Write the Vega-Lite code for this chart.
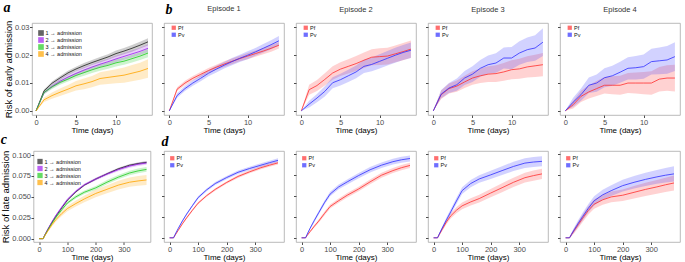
{
"$schema":"https://vega.github.io/schema/vega-lite/v6.json",
"padding":{"left":0,"top":0,"right":0,"bottom":0},
"config":{
 "view":{"stroke":"#a8a8a8","strokeWidth":0.8},
 "axis":{"grid":false,"domain":false,"tickColor":"#4d4d4d","tickSize":2.5,"labelFont":"Liberation Sans","labelFontSize":7.5,"labelColor":"#4d4d4d","labelPadding":0.5,"titleFont":"Liberation Sans","titleFontWeight":"normal","titleFontSize":9.5,"titleColor":"#000","labelFlush":false},
 "axisX":{"titleFontSize":8,"titlePadding":0.5},
 "axisY":{"titlePadding":1},
 "legend":{"orient":"none","title":null,"labelFont":"Liberation Sans","labelFontSize":5.5,"labelColor":"#111","symbolType":"square","symbolStrokeWidth":0,"symbolOpacity":0.7,"rowPadding":0,"padding":0,"labelOffset":1.5},
 "title":{"font":"Liberation Sans","fontSize":7.5,"fontWeight":"normal","color":"#333","offset":10,"frame":"group"}
},
"resolve":{"scale":{"color":"independent"},"legend":{"color":"independent"}},
"bounds":"flush",
"center":true,
"columns":5,
"spacing":{"row":36,"column":12},
"datasets":{
"a":[
{"s":"1 → admission","t":0,"y":0,"lo":0,"hi":0},
{"s":"1 → admission","t":1,"y":0.0072,"lo":0.0067,"hi":0.0077},
{"s":"1 → admission","t":2,"y":0.0099,"lo":0.0093,"hi":0.0105},
{"s":"1 → admission","t":3,"y":0.0118,"lo":0.0111,"hi":0.0125},
{"s":"1 → admission","t":4,"y":0.0136,"lo":0.0128,"hi":0.0144},
{"s":"1 → admission","t":5,"y":0.0150,"lo":0.0142,"hi":0.0158},
{"s":"1 → admission","t":6,"y":0.0162,"lo":0.0153,"hi":0.0171},
{"s":"1 → admission","t":7,"y":0.0173,"lo":0.0164,"hi":0.0182},
{"s":"1 → admission","t":8,"y":0.0183,"lo":0.0173,"hi":0.0193},
{"s":"1 → admission","t":9,"y":0.0193,"lo":0.0183,"hi":0.0203},
{"s":"1 → admission","t":10,"y":0.0205,"lo":0.0194,"hi":0.0216},
{"s":"1 → admission","t":11,"y":0.0214,"lo":0.0203,"hi":0.0225},
{"s":"1 → admission","t":12,"y":0.0224,"lo":0.0212,"hi":0.0236},
{"s":"1 → admission","t":13,"y":0.0235,"lo":0.0223,"hi":0.0247},
{"s":"1 → admission","t":14,"y":0.0247,"lo":0.0234,"hi":0.0260},
{"s":"2 → admission","t":0,"y":0,"lo":0,"hi":0},
{"s":"2 → admission","t":1,"y":0.0065,"lo":0.0060,"hi":0.0070},
{"s":"2 → admission","t":2,"y":0.0088,"lo":0.0081,"hi":0.0095},
{"s":"2 → admission","t":3,"y":0.0106,"lo":0.0098,"hi":0.0114},
{"s":"2 → admission","t":4,"y":0.0121,"lo":0.0112,"hi":0.0130},
{"s":"2 → admission","t":5,"y":0.0134,"lo":0.0125,"hi":0.0143},
{"s":"2 → admission","t":6,"y":0.0146,"lo":0.0136,"hi":0.0156},
{"s":"2 → admission","t":7,"y":0.0157,"lo":0.0147,"hi":0.0167},
{"s":"2 → admission","t":8,"y":0.0167,"lo":0.0156,"hi":0.0178},
{"s":"2 → admission","t":9,"y":0.0176,"lo":0.0165,"hi":0.0187},
{"s":"2 → admission","t":10,"y":0.0186,"lo":0.0174,"hi":0.0198},
{"s":"2 → admission","t":11,"y":0.0195,"lo":0.0183,"hi":0.0207},
{"s":"2 → admission","t":12,"y":0.0204,"lo":0.0191,"hi":0.0217},
{"s":"2 → admission","t":13,"y":0.0213,"lo":0.0200,"hi":0.0226},
{"s":"2 → admission","t":14,"y":0.0224,"lo":0.0210,"hi":0.0238},
{"s":"3 → admission","t":0,"y":0,"lo":0,"hi":0},
{"s":"3 → admission","t":1,"y":0.0066,"lo":0.0060,"hi":0.0072},
{"s":"3 → admission","t":2,"y":0.0086,"lo":0.0079,"hi":0.0093},
{"s":"3 → admission","t":3,"y":0.0102,"lo":0.0094,"hi":0.0110},
{"s":"3 → admission","t":4,"y":0.0114,"lo":0.0105,"hi":0.0123},
{"s":"3 → admission","t":5,"y":0.0127,"lo":0.0117,"hi":0.0137},
{"s":"3 → admission","t":6,"y":0.0137,"lo":0.0126,"hi":0.0148},
{"s":"3 → admission","t":7,"y":0.0147,"lo":0.0136,"hi":0.0158},
{"s":"3 → admission","t":8,"y":0.0156,"lo":0.0144,"hi":0.0168},
{"s":"3 → admission","t":9,"y":0.0163,"lo":0.0151,"hi":0.0175},
{"s":"3 → admission","t":10,"y":0.0172,"lo":0.0159,"hi":0.0185},
{"s":"3 → admission","t":11,"y":0.0178,"lo":0.0165,"hi":0.0191},
{"s":"3 → admission","t":12,"y":0.0187,"lo":0.0173,"hi":0.0201},
{"s":"3 → admission","t":13,"y":0.0196,"lo":0.0182,"hi":0.0210},
{"s":"3 → admission","t":14,"y":0.0207,"lo":0.0192,"hi":0.0222},
{"s":"4 → admission","t":0,"y":0,"lo":0,"hi":0},
{"s":"4 → admission","t":1,"y":0.0040,"lo":0.0032,"hi":0.0048},
{"s":"4 → admission","t":2,"y":0.0055,"lo":0.0044,"hi":0.0066},
{"s":"4 → admission","t":3,"y":0.0067,"lo":0.0054,"hi":0.0080},
{"s":"4 → admission","t":4,"y":0.0078,"lo":0.0063,"hi":0.0093},
{"s":"4 → admission","t":5,"y":0.0090,"lo":0.0073,"hi":0.0107},
{"s":"4 → admission","t":6,"y":0.0097,"lo":0.0078,"hi":0.0116},
{"s":"4 → admission","t":7,"y":0.0105,"lo":0.0085,"hi":0.0125},
{"s":"4 → admission","t":8,"y":0.0116,"lo":0.0094,"hi":0.0138},
{"s":"4 → admission","t":9,"y":0.0120,"lo":0.0096,"hi":0.0144},
{"s":"4 → admission","t":10,"y":0.0124,"lo":0.0099,"hi":0.0149},
{"s":"4 → admission","t":11,"y":0.0128,"lo":0.0101,"hi":0.0155},
{"s":"4 → admission","t":12,"y":0.0135,"lo":0.0106,"hi":0.0164},
{"s":"4 → admission","t":13,"y":0.0142,"lo":0.0112,"hi":0.0172},
{"s":"4 → admission","t":14,"y":0.0152,"lo":0.0119,"hi":0.0185}
],
"b1":[
{"s":"Pf","t":0,"y":0,"lo":0,"hi":0},
{"s":"Pf","t":1,"y":0.0078,"lo":0.0071,"hi":0.0085},
{"s":"Pf","t":2,"y":0.0100,"lo":0.0092,"hi":0.0108},
{"s":"Pf","t":3,"y":0.0117,"lo":0.0109,"hi":0.0125},
{"s":"Pf","t":4,"y":0.0131,"lo":0.0122,"hi":0.0140},
{"s":"Pf","t":5,"y":0.0145,"lo":0.0136,"hi":0.0154},
{"s":"Pf","t":6,"y":0.0157,"lo":0.0148,"hi":0.0166},
{"s":"Pf","t":7,"y":0.0168,"lo":0.0158,"hi":0.0178},
{"s":"Pf","t":8,"y":0.0178,"lo":0.0168,"hi":0.0188},
{"s":"Pf","t":9,"y":0.0188,"lo":0.0178,"hi":0.0198},
{"s":"Pf","t":10,"y":0.0197,"lo":0.0186,"hi":0.0208},
{"s":"Pf","t":11,"y":0.0206,"lo":0.0195,"hi":0.0217},
{"s":"Pf","t":12,"y":0.0215,"lo":0.0204,"hi":0.0226},
{"s":"Pf","t":13,"y":0.0225,"lo":0.0213,"hi":0.0237},
{"s":"Pf","t":14,"y":0.0236,"lo":0.0224,"hi":0.0248},
{"s":"Pv","t":0,"y":0,"lo":0,"hi":0},
{"s":"Pv","t":1,"y":0.0055,"lo":0.0047,"hi":0.0063},
{"s":"Pv","t":2,"y":0.0080,"lo":0.0071,"hi":0.0089},
{"s":"Pv","t":3,"y":0.0100,"lo":0.0090,"hi":0.0110},
{"s":"Pv","t":4,"y":0.0117,"lo":0.0106,"hi":0.0128},
{"s":"Pv","t":5,"y":0.0135,"lo":0.0124,"hi":0.0146},
{"s":"Pv","t":6,"y":0.0150,"lo":0.0138,"hi":0.0162},
{"s":"Pv","t":7,"y":0.0164,"lo":0.0152,"hi":0.0176},
{"s":"Pv","t":8,"y":0.0177,"lo":0.0164,"hi":0.0190},
{"s":"Pv","t":9,"y":0.0189,"lo":0.0176,"hi":0.0202},
{"s":"Pv","t":10,"y":0.0200,"lo":0.0186,"hi":0.0214},
{"s":"Pv","t":11,"y":0.0212,"lo":0.0198,"hi":0.0226},
{"s":"Pv","t":12,"y":0.0225,"lo":0.0210,"hi":0.0240},
{"s":"Pv","t":13,"y":0.0238,"lo":0.0222,"hi":0.0254},
{"s":"Pv","t":14,"y":0.0252,"lo":0.0235,"hi":0.0269}
],
"b2":[
{"s":"Pf","t":0,"y":0,"lo":0,"hi":0},
{"s":"Pf","t":1,"y":0.0076,"lo":0.0058,"hi":0.0094},
{"s":"Pf","t":2,"y":0.0091,"lo":0.0071,"hi":0.0111},
{"s":"Pf","t":3,"y":0.0113,"lo":0.0091,"hi":0.0135},
{"s":"Pf","t":4,"y":0.0136,"lo":0.0112,"hi":0.0160},
{"s":"Pf","t":5,"y":0.0150,"lo":0.0125,"hi":0.0175},
{"s":"Pf","t":6,"y":0.0160,"lo":0.0134,"hi":0.0186},
{"s":"Pf","t":7,"y":0.0170,"lo":0.0143,"hi":0.0197},
{"s":"Pf","t":8,"y":0.0182,"lo":0.0154,"hi":0.0210},
{"s":"Pf","t":9,"y":0.0193,"lo":0.0164,"hi":0.0222},
{"s":"Pf","t":10,"y":0.0195,"lo":0.0165,"hi":0.0225},
{"s":"Pf","t":11,"y":0.0197,"lo":0.0167,"hi":0.0227},
{"s":"Pf","t":12,"y":0.0205,"lo":0.0175,"hi":0.0235},
{"s":"Pf","t":13,"y":0.0213,"lo":0.0182,"hi":0.0244},
{"s":"Pf","t":14,"y":0.0222,"lo":0.0191,"hi":0.0253},
{"s":"Pv","t":0,"y":0,"lo":0,"hi":0},
{"s":"Pv","t":1,"y":0.0024,"lo":0.0012,"hi":0.0036},
{"s":"Pv","t":2,"y":0.0046,"lo":0.0031,"hi":0.0061},
{"s":"Pv","t":3,"y":0.0070,"lo":0.0052,"hi":0.0088},
{"s":"Pv","t":4,"y":0.0101,"lo":0.0081,"hi":0.0121},
{"s":"Pv","t":5,"y":0.0112,"lo":0.0091,"hi":0.0133},
{"s":"Pv","t":6,"y":0.0126,"lo":0.0104,"hi":0.0148},
{"s":"Pv","t":7,"y":0.0140,"lo":0.0117,"hi":0.0163},
{"s":"Pv","t":8,"y":0.0160,"lo":0.0136,"hi":0.0184},
{"s":"Pv","t":9,"y":0.0167,"lo":0.0142,"hi":0.0192},
{"s":"Pv","t":10,"y":0.0178,"lo":0.0152,"hi":0.0204},
{"s":"Pv","t":11,"y":0.0189,"lo":0.0163,"hi":0.0215},
{"s":"Pv","t":12,"y":0.0200,"lo":0.0173,"hi":0.0227},
{"s":"Pv","t":13,"y":0.0210,"lo":0.0183,"hi":0.0237},
{"s":"Pv","t":14,"y":0.0218,"lo":0.0190,"hi":0.0246}
],
"b3":[
{"s":"Pf","t":0,"y":0,"lo":0,"hi":0},
{"s":"Pf","t":1,"y":0.0058,"lo":0.0043,"hi":0.0073},
{"s":"Pf","t":2,"y":0.0080,"lo":0.0062,"hi":0.0098},
{"s":"Pf","t":3,"y":0.0089,"lo":0.0069,"hi":0.0109},
{"s":"Pf","t":4,"y":0.0104,"lo":0.0082,"hi":0.0126},
{"s":"Pf","t":5,"y":0.0118,"lo":0.0094,"hi":0.0142},
{"s":"Pf","t":6,"y":0.0126,"lo":0.0100,"hi":0.0152},
{"s":"Pf","t":7,"y":0.0132,"lo":0.0104,"hi":0.0160},
{"s":"Pf","t":8,"y":0.0134,"lo":0.0104,"hi":0.0164},
{"s":"Pf","t":9,"y":0.0140,"lo":0.0108,"hi":0.0172},
{"s":"Pf","t":10,"y":0.0148,"lo":0.0114,"hi":0.0182},
{"s":"Pf","t":11,"y":0.0151,"lo":0.0115,"hi":0.0187},
{"s":"Pf","t":12,"y":0.0158,"lo":0.0120,"hi":0.0196},
{"s":"Pf","t":13,"y":0.0162,"lo":0.0122,"hi":0.0202},
{"s":"Pf","t":14,"y":0.0166,"lo":0.0124,"hi":0.0208},
{"s":"Pv","t":0,"y":0,"lo":0,"hi":0},
{"s":"Pv","t":1,"y":0.0060,"lo":0.0045,"hi":0.0075},
{"s":"Pv","t":2,"y":0.0082,"lo":0.0064,"hi":0.0100},
{"s":"Pv","t":3,"y":0.0094,"lo":0.0072,"hi":0.0116},
{"s":"Pv","t":4,"y":0.0118,"lo":0.0093,"hi":0.0143},
{"s":"Pv","t":5,"y":0.0132,"lo":0.0104,"hi":0.0160},
{"s":"Pv","t":6,"y":0.0153,"lo":0.0123,"hi":0.0183},
{"s":"Pv","t":7,"y":0.0166,"lo":0.0133,"hi":0.0199},
{"s":"Pv","t":8,"y":0.0172,"lo":0.0137,"hi":0.0207},
{"s":"Pv","t":9,"y":0.0190,"lo":0.0152,"hi":0.0228},
{"s":"Pv","t":10,"y":0.0190,"lo":0.0150,"hi":0.0230},
{"s":"Pv","t":11,"y":0.0208,"lo":0.0166,"hi":0.0250},
{"s":"Pv","t":12,"y":0.0220,"lo":0.0176,"hi":0.0264},
{"s":"Pv","t":13,"y":0.0226,"lo":0.0180,"hi":0.0272},
{"s":"Pv","t":14,"y":0.0247,"lo":0.0197,"hi":0.0297}
],
"b4":[
{"s":"Pf","t":0,"y":0,"lo":0,"hi":0},
{"s":"Pf","t":1,"y":0.0022,"lo":0.0008,"hi":0.0036},
{"s":"Pf","t":2,"y":0.0052,"lo":0.0032,"hi":0.0072},
{"s":"Pf","t":3,"y":0.0068,"lo":0.0044,"hi":0.0092},
{"s":"Pf","t":4,"y":0.0080,"lo":0.0053,"hi":0.0107},
{"s":"Pf","t":5,"y":0.0092,"lo":0.0062,"hi":0.0122},
{"s":"Pf","t":6,"y":0.0092,"lo":0.0060,"hi":0.0124},
{"s":"Pf","t":7,"y":0.0092,"lo":0.0058,"hi":0.0126},
{"s":"Pf","t":8,"y":0.0100,"lo":0.0064,"hi":0.0136},
{"s":"Pf","t":9,"y":0.0100,"lo":0.0062,"hi":0.0138},
{"s":"Pf","t":10,"y":0.0100,"lo":0.0060,"hi":0.0140},
{"s":"Pf","t":11,"y":0.0100,"lo":0.0058,"hi":0.0142},
{"s":"Pf","t":12,"y":0.0114,"lo":0.0070,"hi":0.0158},
{"s":"Pf","t":13,"y":0.0118,"lo":0.0072,"hi":0.0164},
{"s":"Pf","t":14,"y":0.0118,"lo":0.0070,"hi":0.0166},
{"s":"Pv","t":0,"y":0,"lo":0,"hi":0},
{"s":"Pv","t":1,"y":0.0031,"lo":0.0015,"hi":0.0047},
{"s":"Pv","t":2,"y":0.0058,"lo":0.0036,"hi":0.0080},
{"s":"Pv","t":3,"y":0.0092,"lo":0.0064,"hi":0.0120},
{"s":"Pv","t":4,"y":0.0100,"lo":0.0069,"hi":0.0131},
{"s":"Pv","t":5,"y":0.0119,"lo":0.0085,"hi":0.0153},
{"s":"Pv","t":6,"y":0.0126,"lo":0.0090,"hi":0.0162},
{"s":"Pv","t":7,"y":0.0139,"lo":0.0101,"hi":0.0177},
{"s":"Pv","t":8,"y":0.0153,"lo":0.0113,"hi":0.0193},
{"s":"Pv","t":9,"y":0.0155,"lo":0.0113,"hi":0.0197},
{"s":"Pv","t":10,"y":0.0159,"lo":0.0115,"hi":0.0203},
{"s":"Pv","t":11,"y":0.0177,"lo":0.0131,"hi":0.0223},
{"s":"Pv","t":12,"y":0.0180,"lo":0.0132,"hi":0.0228},
{"s":"Pv","t":13,"y":0.0183,"lo":0.0133,"hi":0.0233},
{"s":"Pv","t":14,"y":0.0195,"lo":0.0143,"hi":0.0247}
],
"c":[
{"s":"1 → admission","t":0,"y":0,"lo":0,"hi":0},
{"s":"1 → admission","t":14,"y":0,"lo":0,"hi":0},
{"s":"1 → admission","t":20,"y":0.0042,"lo":0.0039,"hi":0.0045},
{"s":"1 → admission","t":30,"y":0.0105,"lo":0.0100,"hi":0.0110},
{"s":"1 → admission","t":45,"y":0.0193,"lo":0.0187,"hi":0.0199},
{"s":"1 → admission","t":60,"y":0.0272,"lo":0.0265,"hi":0.0279},
{"s":"1 → admission","t":80,"y":0.0368,"lo":0.0360,"hi":0.0376},
{"s":"1 → admission","t":100,"y":0.0460,"lo":0.0451,"hi":0.0469},
{"s":"1 → admission","t":130,"y":0.0560,"lo":0.0550,"hi":0.0570},
{"s":"1 → admission","t":160,"y":0.0640,"lo":0.0629,"hi":0.0651},
{"s":"1 → admission","t":200,"y":0.0712,"lo":0.0700,"hi":0.0724},
{"s":"1 → admission","t":240,"y":0.0775,"lo":0.0763,"hi":0.0787},
{"s":"1 → admission","t":280,"y":0.0835,"lo":0.0822,"hi":0.0848},
{"s":"1 → admission","t":320,"y":0.0878,"lo":0.0864,"hi":0.0892},
{"s":"1 → admission","t":350,"y":0.0898,"lo":0.0884,"hi":0.0912},
{"s":"1 → admission","t":380,"y":0.0912,"lo":0.0897,"hi":0.0927},
{"s":"2 → admission","t":0,"y":0,"lo":0,"hi":0},
{"s":"2 → admission","t":14,"y":0,"lo":0,"hi":0},
{"s":"2 → admission","t":20,"y":0.0044,"lo":0.0040,"hi":0.0048},
{"s":"2 → admission","t":30,"y":0.0109,"lo":0.0102,"hi":0.0116},
{"s":"2 → admission","t":45,"y":0.0200,"lo":0.0191,"hi":0.0209},
{"s":"2 → admission","t":60,"y":0.0282,"lo":0.0272,"hi":0.0292},
{"s":"2 → admission","t":80,"y":0.0378,"lo":0.0366,"hi":0.0390},
{"s":"2 → admission","t":100,"y":0.0470,"lo":0.0457,"hi":0.0483},
{"s":"2 → admission","t":130,"y":0.0568,"lo":0.0554,"hi":0.0582},
{"s":"2 → admission","t":160,"y":0.0645,"lo":0.0630,"hi":0.0660},
{"s":"2 → admission","t":200,"y":0.0712,"lo":0.0696,"hi":0.0728},
{"s":"2 → admission","t":240,"y":0.0772,"lo":0.0755,"hi":0.0789},
{"s":"2 → admission","t":280,"y":0.0825,"lo":0.0807,"hi":0.0843},
{"s":"2 → admission","t":320,"y":0.0868,"lo":0.0849,"hi":0.0887},
{"s":"2 → admission","t":350,"y":0.0890,"lo":0.0870,"hi":0.0910},
{"s":"2 → admission","t":380,"y":0.0905,"lo":0.0884,"hi":0.0926},
{"s":"3 → admission","t":0,"y":0,"lo":0,"hi":0},
{"s":"3 → admission","t":14,"y":0,"lo":0,"hi":0},
{"s":"3 → admission","t":20,"y":0.0039,"lo":0.0034,"hi":0.0044},
{"s":"3 → admission","t":30,"y":0.0098,"lo":0.0089,"hi":0.0107},
{"s":"3 → admission","t":45,"y":0.0182,"lo":0.0170,"hi":0.0194},
{"s":"3 → admission","t":60,"y":0.0258,"lo":0.0243,"hi":0.0273},
{"s":"3 → admission","t":80,"y":0.0345,"lo":0.0328,"hi":0.0362},
{"s":"3 → admission","t":100,"y":0.0427,"lo":0.0408,"hi":0.0446},
{"s":"3 → admission","t":130,"y":0.0500,"lo":0.0479,"hi":0.0521},
{"s":"3 → admission","t":160,"y":0.0555,"lo":0.0533,"hi":0.0577},
{"s":"3 → admission","t":200,"y":0.0607,"lo":0.0583,"hi":0.0631},
{"s":"3 → admission","t":240,"y":0.0675,"lo":0.0650,"hi":0.0700},
{"s":"3 → admission","t":280,"y":0.0735,"lo":0.0709,"hi":0.0761},
{"s":"3 → admission","t":320,"y":0.0785,"lo":0.0758,"hi":0.0812},
{"s":"3 → admission","t":350,"y":0.0810,"lo":0.0782,"hi":0.0838},
{"s":"3 → admission","t":380,"y":0.0828,"lo":0.0799,"hi":0.0857},
{"s":"4 → admission","t":0,"y":0,"lo":0,"hi":0},
{"s":"4 → admission","t":14,"y":0,"lo":0,"hi":0},
{"s":"4 → admission","t":20,"y":0.0035,"lo":0.0027,"hi":0.0043},
{"s":"4 → admission","t":30,"y":0.0088,"lo":0.0074,"hi":0.0102},
{"s":"4 → admission","t":45,"y":0.0165,"lo":0.0145,"hi":0.0185},
{"s":"4 → admission","t":60,"y":0.0230,"lo":0.0205,"hi":0.0255},
{"s":"4 → admission","t":80,"y":0.0300,"lo":0.0271,"hi":0.0329},
{"s":"4 → admission","t":100,"y":0.0360,"lo":0.0327,"hi":0.0393},
{"s":"4 → admission","t":130,"y":0.0420,"lo":0.0383,"hi":0.0457},
{"s":"4 → admission","t":160,"y":0.0475,"lo":0.0435,"hi":0.0515},
{"s":"4 → admission","t":200,"y":0.0540,"lo":0.0496,"hi":0.0584},
{"s":"4 → admission","t":240,"y":0.0590,"lo":0.0542,"hi":0.0638},
{"s":"4 → admission","t":280,"y":0.0640,"lo":0.0588,"hi":0.0692},
{"s":"4 → admission","t":320,"y":0.0675,"lo":0.0620,"hi":0.0730},
{"s":"4 → admission","t":350,"y":0.0690,"lo":0.0632,"hi":0.0748},
{"s":"4 → admission","t":380,"y":0.0702,"lo":0.0642,"hi":0.0762}
],
"d1":[
{"s":"Pf","t":0,"y":0,"lo":0,"hi":0},
{"s":"Pf","t":14,"y":0,"lo":0,"hi":0},
{"s":"Pf","t":20,"y":0.0034,"lo":0.0030,"hi":0.0038},
{"s":"Pf","t":30,"y":0.0088,"lo":0.0081,"hi":0.0095},
{"s":"Pf","t":45,"y":0.0168,"lo":0.0159,"hi":0.0177},
{"s":"Pf","t":60,"y":0.0240,"lo":0.0229,"hi":0.0251},
{"s":"Pf","t":80,"y":0.0330,"lo":0.0318,"hi":0.0342},
{"s":"Pf","t":100,"y":0.0415,"lo":0.0402,"hi":0.0428},
{"s":"Pf","t":130,"y":0.0505,"lo":0.0491,"hi":0.0519},
{"s":"Pf","t":160,"y":0.0580,"lo":0.0565,"hi":0.0595},
{"s":"Pf","t":200,"y":0.0663,"lo":0.0647,"hi":0.0679},
{"s":"Pf","t":240,"y":0.0735,"lo":0.0718,"hi":0.0752},
{"s":"Pf","t":280,"y":0.0790,"lo":0.0772,"hi":0.0808},
{"s":"Pf","t":320,"y":0.0840,"lo":0.0821,"hi":0.0859},
{"s":"Pf","t":350,"y":0.0870,"lo":0.0851,"hi":0.0889},
{"s":"Pf","t":380,"y":0.0898,"lo":0.0878,"hi":0.0918},
{"s":"Pv","t":0,"y":0,"lo":0,"hi":0},
{"s":"Pv","t":14,"y":0,"lo":0,"hi":0},
{"s":"Pv","t":20,"y":0.0044,"lo":0.0039,"hi":0.0049},
{"s":"Pv","t":30,"y":0.0110,"lo":0.0102,"hi":0.0118},
{"s":"Pv","t":45,"y":0.0202,"lo":0.0191,"hi":0.0213},
{"s":"Pv","t":60,"y":0.0285,"lo":0.0272,"hi":0.0298},
{"s":"Pv","t":80,"y":0.0385,"lo":0.0371,"hi":0.0399},
{"s":"Pv","t":100,"y":0.0482,"lo":0.0466,"hi":0.0498},
{"s":"Pv","t":130,"y":0.0575,"lo":0.0558,"hi":0.0592},
{"s":"Pv","t":160,"y":0.0650,"lo":0.0632,"hi":0.0668},
{"s":"Pv","t":200,"y":0.0722,"lo":0.0703,"hi":0.0741},
{"s":"Pv","t":240,"y":0.0785,"lo":0.0765,"hi":0.0805},
{"s":"Pv","t":280,"y":0.0830,"lo":0.0808,"hi":0.0852},
{"s":"Pv","t":320,"y":0.0870,"lo":0.0847,"hi":0.0893},
{"s":"Pv","t":350,"y":0.0900,"lo":0.0877,"hi":0.0923},
{"s":"Pv","t":380,"y":0.0928,"lo":0.0904,"hi":0.0952}
],
"d2":[
{"s":"Pf","t":0,"y":0,"lo":0,"hi":0},
{"s":"Pf","t":14,"y":0,"lo":0,"hi":0},
{"s":"Pf","t":20,"y":0.0030,"lo":0.0022,"hi":0.0038},
{"s":"Pf","t":30,"y":0.0075,"lo":0.0063,"hi":0.0087},
{"s":"Pf","t":45,"y":0.0140,"lo":0.0124,"hi":0.0156},
{"s":"Pf","t":60,"y":0.0200,"lo":0.0181,"hi":0.0219},
{"s":"Pf","t":80,"y":0.0290,"lo":0.0268,"hi":0.0312},
{"s":"Pf","t":100,"y":0.0375,"lo":0.0351,"hi":0.0399},
{"s":"Pf","t":130,"y":0.0445,"lo":0.0419,"hi":0.0471},
{"s":"Pf","t":160,"y":0.0510,"lo":0.0483,"hi":0.0537},
{"s":"Pf","t":200,"y":0.0585,"lo":0.0557,"hi":0.0613},
{"s":"Pf","t":240,"y":0.0670,"lo":0.0641,"hi":0.0699},
{"s":"Pf","t":280,"y":0.0750,"lo":0.0720,"hi":0.0780},
{"s":"Pf","t":320,"y":0.0805,"lo":0.0775,"hi":0.0835},
{"s":"Pf","t":350,"y":0.0840,"lo":0.0809,"hi":0.0871},
{"s":"Pf","t":380,"y":0.0867,"lo":0.0836,"hi":0.0898},
{"s":"Pv","t":0,"y":0,"lo":0,"hi":0},
{"s":"Pv","t":14,"y":0,"lo":0,"hi":0},
{"s":"Pv","t":20,"y":0.0045,"lo":0.0035,"hi":0.0055},
{"s":"Pv","t":30,"y":0.0115,"lo":0.0100,"hi":0.0130},
{"s":"Pv","t":45,"y":0.0210,"lo":0.0191,"hi":0.0229},
{"s":"Pv","t":60,"y":0.0300,"lo":0.0278,"hi":0.0322},
{"s":"Pv","t":80,"y":0.0420,"lo":0.0395,"hi":0.0445},
{"s":"Pv","t":100,"y":0.0524,"lo":0.0497,"hi":0.0551},
{"s":"Pv","t":130,"y":0.0610,"lo":0.0581,"hi":0.0639},
{"s":"Pv","t":160,"y":0.0670,"lo":0.0640,"hi":0.0700},
{"s":"Pv","t":200,"y":0.0746,"lo":0.0715,"hi":0.0777},
{"s":"Pv","t":240,"y":0.0815,"lo":0.0783,"hi":0.0847},
{"s":"Pv","t":280,"y":0.0870,"lo":0.0837,"hi":0.0903},
{"s":"Pv","t":320,"y":0.0912,"lo":0.0878,"hi":0.0946},
{"s":"Pv","t":350,"y":0.0935,"lo":0.0900,"hi":0.0970},
{"s":"Pv","t":380,"y":0.0950,"lo":0.0915,"hi":0.0985}
],
"d3":[
{"s":"Pf","t":0,"y":0,"lo":0,"hi":0},
{"s":"Pf","t":14,"y":0,"lo":0,"hi":0},
{"s":"Pf","t":20,"y":0.0040,"lo":0.0025,"hi":0.0055},
{"s":"Pf","t":30,"y":0.0100,"lo":0.0078,"hi":0.0122},
{"s":"Pf","t":45,"y":0.0190,"lo":0.0162,"hi":0.0218},
{"s":"Pf","t":60,"y":0.0262,"lo":0.0230,"hi":0.0294},
{"s":"Pf","t":80,"y":0.0330,"lo":0.0294,"hi":0.0366},
{"s":"Pf","t":100,"y":0.0383,"lo":0.0343,"hi":0.0423},
{"s":"Pf","t":130,"y":0.0430,"lo":0.0387,"hi":0.0473},
{"s":"Pf","t":160,"y":0.0470,"lo":0.0424,"hi":0.0516},
{"s":"Pf","t":200,"y":0.0536,"lo":0.0486,"hi":0.0586},
{"s":"Pf","t":240,"y":0.0600,"lo":0.0547,"hi":0.0653},
{"s":"Pf","t":280,"y":0.0665,"lo":0.0609,"hi":0.0721},
{"s":"Pf","t":320,"y":0.0720,"lo":0.0662,"hi":0.0778},
{"s":"Pf","t":350,"y":0.0745,"lo":0.0685,"hi":0.0805},
{"s":"Pf","t":380,"y":0.0766,"lo":0.0706,"hi":0.0826},
{"s":"Pv","t":0,"y":0,"lo":0,"hi":0},
{"s":"Pv","t":14,"y":0,"lo":0,"hi":0},
{"s":"Pv","t":20,"y":0.0045,"lo":0.0030,"hi":0.0060},
{"s":"Pv","t":30,"y":0.0115,"lo":0.0093,"hi":0.0137},
{"s":"Pv","t":45,"y":0.0215,"lo":0.0187,"hi":0.0243},
{"s":"Pv","t":60,"y":0.0310,"lo":0.0278,"hi":0.0342},
{"s":"Pv","t":80,"y":0.0440,"lo":0.0404,"hi":0.0476},
{"s":"Pv","t":100,"y":0.0565,"lo":0.0525,"hi":0.0605},
{"s":"Pv","t":130,"y":0.0650,"lo":0.0607,"hi":0.0693},
{"s":"Pv","t":160,"y":0.0705,"lo":0.0659,"hi":0.0751},
{"s":"Pv","t":200,"y":0.0754,"lo":0.0704,"hi":0.0804},
{"s":"Pv","t":240,"y":0.0805,"lo":0.0752,"hi":0.0858},
{"s":"Pv","t":280,"y":0.0855,"lo":0.0799,"hi":0.0911},
{"s":"Pv","t":320,"y":0.0895,"lo":0.0837,"hi":0.0953},
{"s":"Pv","t":350,"y":0.0908,"lo":0.0848,"hi":0.0968},
{"s":"Pv","t":380,"y":0.0916,"lo":0.0856,"hi":0.0976}
],
"d4":[
{"s":"Pf","t":0,"y":0,"lo":0,"hi":0},
{"s":"Pf","t":14,"y":0,"lo":0,"hi":0},
{"s":"Pf","t":20,"y":0.0035,"lo":0.0015,"hi":0.0055},
{"s":"Pf","t":30,"y":0.0085,"lo":0.0055,"hi":0.0115},
{"s":"Pf","t":45,"y":0.0160,"lo":0.0120,"hi":0.0200},
{"s":"Pf","t":60,"y":0.0235,"lo":0.0190,"hi":0.0280},
{"s":"Pf","t":80,"y":0.0330,"lo":0.0280,"hi":0.0380},
{"s":"Pf","t":100,"y":0.0403,"lo":0.0348,"hi":0.0458},
{"s":"Pf","t":130,"y":0.0455,"lo":0.0395,"hi":0.0515},
{"s":"Pf","t":160,"y":0.0490,"lo":0.0425,"hi":0.0555},
{"s":"Pf","t":200,"y":0.0510,"lo":0.0440,"hi":0.0580},
{"s":"Pf","t":240,"y":0.0545,"lo":0.0470,"hi":0.0620},
{"s":"Pf","t":280,"y":0.0580,"lo":0.0500,"hi":0.0660},
{"s":"Pf","t":320,"y":0.0610,"lo":0.0527,"hi":0.0693},
{"s":"Pf","t":350,"y":0.0635,"lo":0.0549,"hi":0.0721},
{"s":"Pf","t":380,"y":0.0657,"lo":0.0567,"hi":0.0747},
{"s":"Pv","t":0,"y":0,"lo":0,"hi":0},
{"s":"Pv","t":14,"y":0,"lo":0,"hi":0},
{"s":"Pv","t":20,"y":0.0038,"lo":0.0018,"hi":0.0058},
{"s":"Pv","t":30,"y":0.0095,"lo":0.0065,"hi":0.0125},
{"s":"Pv","t":45,"y":0.0178,"lo":0.0138,"hi":0.0218},
{"s":"Pv","t":60,"y":0.0255,"lo":0.0210,"hi":0.0300},
{"s":"Pv","t":80,"y":0.0355,"lo":0.0305,"hi":0.0405},
{"s":"Pv","t":100,"y":0.0443,"lo":0.0388,"hi":0.0498},
{"s":"Pv","t":130,"y":0.0515,"lo":0.0455,"hi":0.0575},
{"s":"Pv","t":160,"y":0.0565,"lo":0.0500,"hi":0.0630},
{"s":"Pv","t":200,"y":0.0625,"lo":0.0555,"hi":0.0695},
{"s":"Pv","t":240,"y":0.0665,"lo":0.0590,"hi":0.0740},
{"s":"Pv","t":280,"y":0.0700,"lo":0.0620,"hi":0.0780},
{"s":"Pv","t":320,"y":0.0730,"lo":0.0647,"hi":0.0813},
{"s":"Pv","t":350,"y":0.0750,"lo":0.0664,"hi":0.0836},
{"s":"Pv","t":380,"y":0.0766,"lo":0.0676,"hi":0.0856}
]
},
"concat":[
  {
   "width":120,"height":92,
   "title":{"text":"a","font":"Liberation Serif","fontStyle":"italic","fontWeight":"bold","fontSize":14,"color":"#000","anchor":"start","frame":"bounds","offset":5.5},
   "data":{"name":"a"},
   "encoding":{"x":{"field":"t","type":"quantitative","scale":{"domain":[-0.5,14.5],"nice":false},"axis":{"values":[0,5,10],"title":"Time (days)"}}},
   "layer":[
    {"mark":{"type":"area","opacity":0.22},"encoding":{
     "y":{"field":"lo","type":"quantitative","scale":{"domain":[-0.00143,0.03143],"nice":false,"zero":false},"axis":{"values":[0,0.01,0.02,0.03],"format":".2f","title":"Risk of early admission"}},
     "y2":{"field":"hi"},
     "color":{"field":"s","type":"nominal","scale":{"domain":["1 → admission","2 → admission","3 → admission","4 → admission"],"range":["#222222","#a020f0","#22cc22","#ffa500"]},"legend":{"legendX":6,"legendY":7,"symbolSize":32}}}},
    {"mark":{"type":"line","strokeWidth":0.9,"opacity":0.9},"encoding":{
     "y":{"field":"y","type":"quantitative","axis":{"values":[0,0.01,0.02,0.03],"format":".2f","title":"Risk of early admission"}},
     "color":{"field":"s","type":"nominal"}}}
   ]
  },
  {"width":120,"height":92,"title":{"text":"Episode 1","dy":20},"data":{"name":"b1"},
   "encoding":{"x":{"field":"t","type":"quantitative","scale":{"domain":[-0.68,14.65],"nice":false},"axis":{"values":[0,5,10],"title":"Time (days)"}}},
   "layer":[
    {"mark":{"type":"area","opacity":0.22},"encoding":{"y":{"field":"lo","type":"quantitative","scale":{"domain":[-0.0015,0.0316],"nice":false,"zero":false},"axis":{"values":[0,0.01,0.02,0.03],"labels":false,"title":"b","titleAngle":0,"titleX":1,"titleY":-10,"titleAlign":"left","titleBaseline":"alphabetic","titleFont":"Liberation Serif","titleFontStyle":"italic","titleFontWeight":"bold","titleFontSize":14}},"y2":{"field":"hi"},"color":{"field":"s","type":"nominal","scale":{"domain":["Pf","Pv"],"range":["#ff3030","#3030ff"]},"legend":{"legendX":7,"legendY":2,"symbolSize":18}}}},
    {"mark":{"type":"line","strokeWidth":0.9,"opacity":0.9},"encoding":{"y":{"field":"y","type":"quantitative","axis":{"values":[0,0.01,0.02,0.03],"labels":false,"title":"b","titleAngle":0,"titleX":1,"titleY":-10,"titleAlign":"left","titleBaseline":"alphabetic","titleFont":"Liberation Serif","titleFontStyle":"italic","titleFontWeight":"bold","titleFontSize":14}},"color":{"field":"s","type":"nominal"}}}
   ]},
  {"width":120,"height":92,"title":"Episode 2","data":{"name":"b2"},
   "encoding":{"x":{"field":"t","type":"quantitative","scale":{"domain":[-0.68,14.65],"nice":false},"axis":{"values":[0,5,10],"title":"Time (days)"}}},
   "layer":[
    {"mark":{"type":"area","opacity":0.22},"encoding":{"y":{"field":"lo","type":"quantitative","scale":{"domain":[-0.0015,0.0316],"nice":false,"zero":false},"axis":{"values":[0,0.01,0.02,0.03],"labels":false,"title":null}},"y2":{"field":"hi"},"color":{"field":"s","type":"nominal","scale":{"domain":["Pf","Pv"],"range":["#ff3030","#3030ff"]},"legend":{"legendX":7,"legendY":2,"symbolSize":18}}}},
    {"mark":{"type":"line","strokeWidth":0.9,"opacity":0.9},"encoding":{"y":{"field":"y","type":"quantitative","axis":{"values":[0,0.01,0.02,0.03],"labels":false,"title":null}},"color":{"field":"s","type":"nominal"}}}
   ]},
  {"width":120,"height":92,"title":"Episode 3","data":{"name":"b3"},
   "encoding":{"x":{"field":"t","type":"quantitative","scale":{"domain":[-0.68,14.65],"nice":false},"axis":{"values":[0,5,10],"title":"Time (days)"}}},
   "layer":[
    {"mark":{"type":"area","opacity":0.22},"encoding":{"y":{"field":"lo","type":"quantitative","scale":{"domain":[-0.0015,0.0316],"nice":false,"zero":false},"axis":{"values":[0,0.01,0.02,0.03],"labels":false,"title":null}},"y2":{"field":"hi"},"color":{"field":"s","type":"nominal","scale":{"domain":["Pf","Pv"],"range":["#ff3030","#3030ff"]},"legend":{"legendX":7,"legendY":2,"symbolSize":18}}}},
    {"mark":{"type":"line","strokeWidth":0.9,"opacity":0.9},"encoding":{"y":{"field":"y","type":"quantitative","axis":{"values":[0,0.01,0.02,0.03],"labels":false,"title":null}},"color":{"field":"s","type":"nominal"}}}
   ]},
  {"width":120,"height":92,"title":"Episode 4","data":{"name":"b4"},
   "encoding":{"x":{"field":"t","type":"quantitative","scale":{"domain":[-0.68,14.65],"nice":false},"axis":{"values":[0,5,10],"title":"Time (days)"}}},
   "layer":[
    {"mark":{"type":"area","opacity":0.22},"encoding":{"y":{"field":"lo","type":"quantitative","scale":{"domain":[-0.0015,0.0316],"nice":false,"zero":false},"axis":{"values":[0,0.01,0.02,0.03],"labels":false,"title":null}},"y2":{"field":"hi"},"color":{"field":"s","type":"nominal","scale":{"domain":["Pf","Pv"],"range":["#ff3030","#3030ff"]},"legend":{"legendX":7,"legendY":2,"symbolSize":18}}}},
    {"mark":{"type":"line","strokeWidth":0.9,"opacity":0.9},"encoding":{"y":{"field":"y","type":"quantitative","axis":{"values":[0,0.01,0.02,0.03],"labels":false,"title":null}},"color":{"field":"s","type":"nominal"}}}
   ]},
  {
   "width":117,"height":91,
   "title":{"text":"c","font":"Liberation Serif","fontStyle":"italic","fontWeight":"bold","fontSize":14,"color":"#000","anchor":"start","frame":"bounds","offset":3.5},
   "data":{"name":"c"},
   "encoding":{"x":{"field":"t","type":"quantitative","scale":{"domain":[-20,394],"nice":false},"axis":{"values":[0,100,200,300],"title":"Time (days)"}}},
   "layer":[
    {"mark":{"type":"area","opacity":0.22},"encoding":{
     "y":{"field":"lo","type":"quantitative","scale":{"domain":[-0.004,0.1048],"nice":false,"zero":false},"axis":{"values":[0,0.025,0.05,0.075,0.1],"format":".3f","title":"Risk of late admission"}},
     "y2":{"field":"hi"},
     "color":{"field":"s","type":"nominal","scale":{"domain":["1 → admission","2 → admission","3 → admission","4 → admission"],"range":["#222222","#a020f0","#22cc22","#ffa500"]},"legend":{"legendX":3.5,"legendY":7.5,"symbolSize":28}}}},
    {"mark":{"type":"line","strokeWidth":0.9,"opacity":0.9},"encoding":{
     "y":{"field":"y","type":"quantitative","axis":{"values":[0,0.025,0.05,0.075,0.1],"format":".3f","title":"Risk of late admission"}},
     "color":{"field":"s","type":"nominal"}}}
   ]
  },
  {"width":120,"height":91,"data":{"name":"d1"},
   "encoding":{"x":{"field":"t","type":"quantitative","scale":{"domain":[-19.5,401],"nice":false},"axis":{"values":[0,100,200,300],"title":"Time (days)"}}},
   "layer":[
    {"mark":{"type":"area","opacity":0.22},"encoding":{"y":{"field":"lo","type":"quantitative","scale":{"domain":[-0.005,0.104],"nice":false,"zero":false},"axis":{"values":[0,0.025,0.05,0.075,0.1],"labels":false,"title":"d","titleAngle":0,"titleX":-3,"titleY":-6,"titleAlign":"left","titleBaseline":"alphabetic","titleFont":"Liberation Serif","titleFontStyle":"italic","titleFontWeight":"bold","titleFontSize":14}},"y2":{"field":"hi"},"color":{"field":"s","type":"nominal","scale":{"domain":["Pf","Pv"],"range":["#ff3030","#3030ff"]},"legend":{"legendX":5.5,"legendY":4.5,"symbolSize":18}}}},
    {"mark":{"type":"line","strokeWidth":0.9,"opacity":0.9},"encoding":{"y":{"field":"y","type":"quantitative","axis":{"values":[0,0.025,0.05,0.075,0.1],"labels":false,"title":"d","titleAngle":0,"titleX":-3,"titleY":-6,"titleAlign":"left","titleBaseline":"alphabetic","titleFont":"Liberation Serif","titleFontStyle":"italic","titleFontWeight":"bold","titleFontSize":14}},"color":{"field":"s","type":"nominal"}}}
   ]},
  {"width":120,"height":91,"data":{"name":"d2"},
   "encoding":{"x":{"field":"t","type":"quantitative","scale":{"domain":[-19.5,401],"nice":false},"axis":{"values":[0,100,200,300],"title":"Time (days)"}}},
   "layer":[
    {"mark":{"type":"area","opacity":0.22},"encoding":{"y":{"field":"lo","type":"quantitative","scale":{"domain":[-0.005,0.104],"nice":false,"zero":false},"axis":{"values":[0,0.025,0.05,0.075,0.1],"labels":false,"title":null}},"y2":{"field":"hi"},"color":{"field":"s","type":"nominal","scale":{"domain":["Pf","Pv"],"range":["#ff3030","#3030ff"]},"legend":{"legendX":5.5,"legendY":4.5,"symbolSize":18}}}},
    {"mark":{"type":"line","strokeWidth":0.9,"opacity":0.9},"encoding":{"y":{"field":"y","type":"quantitative","axis":{"values":[0,0.025,0.05,0.075,0.1],"labels":false,"title":null}},"color":{"field":"s","type":"nominal"}}}
   ]},
  {"width":120,"height":91,"data":{"name":"d3"},
   "encoding":{"x":{"field":"t","type":"quantitative","scale":{"domain":[-19.5,401],"nice":false},"axis":{"values":[0,100,200,300],"title":"Time (days)"}}},
   "layer":[
    {"mark":{"type":"area","opacity":0.22},"encoding":{"y":{"field":"lo","type":"quantitative","scale":{"domain":[-0.005,0.104],"nice":false,"zero":false},"axis":{"values":[0,0.025,0.05,0.075,0.1],"labels":false,"title":null}},"y2":{"field":"hi"},"color":{"field":"s","type":"nominal","scale":{"domain":["Pf","Pv"],"range":["#ff3030","#3030ff"]},"legend":{"legendX":5.5,"legendY":4.5,"symbolSize":18}}}},
    {"mark":{"type":"line","strokeWidth":0.9,"opacity":0.9},"encoding":{"y":{"field":"y","type":"quantitative","axis":{"values":[0,0.025,0.05,0.075,0.1],"labels":false,"title":null}},"color":{"field":"s","type":"nominal"}}}
   ]},
  {"width":120,"height":91,"data":{"name":"d4"},
   "encoding":{"x":{"field":"t","type":"quantitative","scale":{"domain":[-19.5,401],"nice":false},"axis":{"values":[0,100,200,300],"title":"Time (days)"}}},
   "layer":[
    {"mark":{"type":"area","opacity":0.22},"encoding":{"y":{"field":"lo","type":"quantitative","scale":{"domain":[-0.005,0.104],"nice":false,"zero":false},"axis":{"values":[0,0.025,0.05,0.075,0.1],"labels":false,"title":null}},"y2":{"field":"hi"},"color":{"field":"s","type":"nominal","scale":{"domain":["Pf","Pv"],"range":["#ff3030","#3030ff"]},"legend":{"legendX":5.5,"legendY":4.5,"symbolSize":18}}}},
    {"mark":{"type":"line","strokeWidth":0.9,"opacity":0.9},"encoding":{"y":{"field":"y","type":"quantitative","axis":{"values":[0,0.025,0.05,0.075,0.1],"labels":false,"title":null}},"color":{"field":"s","type":"nominal"}}}
   ]}
]
}
